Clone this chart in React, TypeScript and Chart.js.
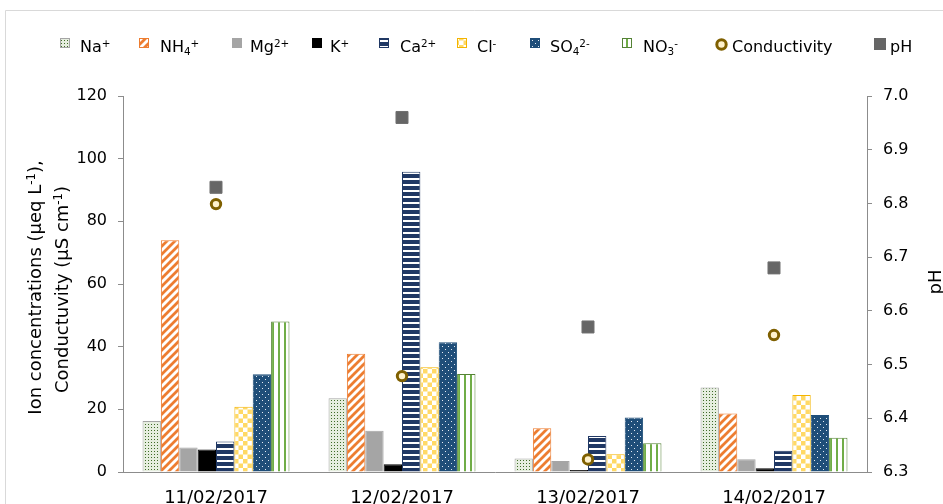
import React, { useEffect, useRef } from 'react';
import { Chart, registerables } from 'chart.js';

Chart.register(...registerables);

const categories = ['11/02/2017', '12/02/2017', '13/02/2017', '14/02/2017'];
const naValues = [16.3, 23.5, 4.3, 27.0];
const nh4Values = [74.0, 37.7, 14.0, 18.7];
const mgValues = [7.8, 13.2, 3.5, 4.1];
const kValues = [7.2, 2.5, 0.6, 1.2];
const caValues = [9.7, 95.8, 11.5, 6.8];
const clValues = [20.8, 33.4, 5.7, 24.6];
const so4Values = [31.2, 41.4, 17.4, 18.2];
const no3Values = [48.0, 31.3, 9.2, 10.9];
const conductivityValues = [85.5, 30.6, 4.0, 43.7];
const phValues = [6.83, 6.96, 6.57, 6.68];

const FONT = "'DejaVu Sans', sans-serif";

type Seg = { t: string; k?: 'sup' | 'sub' };

function makeTile(w: number, h: number, draw: (g: CanvasRenderingContext2D) => void) {
  const c = document.createElement('canvas');
  c.width = w;
  c.height = h;
  const g = c.getContext('2d') as CanvasRenderingContext2D;
  draw(g);
  return c;
}

function buildPatterns(ctx: CanvasRenderingContext2D) {
  const na = makeTile(3, 3, (g) => {
    g.fillStyle = '#E6EEDF';
    g.fillRect(0, 0, 3, 3);
    g.fillStyle = '#3F6B28';
    g.fillRect(1, 1, 1, 1);
  });
  const nh4 = makeTile(8, 8, (g) => {
    g.fillStyle = '#ffffff';
    g.fillRect(0, 0, 8, 8);
    g.strokeStyle = '#ED7D31';
    g.lineWidth = 2.8;
    g.beginPath();
    g.moveTo(-2, 10);
    g.lineTo(10, -2);
    g.moveTo(-2, 2);
    g.lineTo(2, -2);
    g.moveTo(6, 10);
    g.lineTo(10, 6);
    g.stroke();
  });
  const ca = makeTile(6, 6, (g) => {
    g.fillStyle = '#203864';
    g.fillRect(0, 0, 6, 6);
    g.fillStyle = '#ffffff';
    g.fillRect(0, 4, 6, 2);
  });
  const cl = makeTile(9, 9, (g) => {
    g.fillStyle = '#ffffff';
    g.fillRect(0, 0, 9, 9);
    g.fillStyle = '#FFD966';
    g.fillRect(0, 0, 4.5, 4.5);
    g.fillRect(4.5, 4.5, 4.5, 4.5);
  });
  const so4 = makeTile(6, 6, (g) => {
    g.fillStyle = '#1F4E79';
    g.fillRect(0, 0, 6, 6);
    g.fillStyle = '#E6ECF4';
    g.fillRect(1, 1, 1, 1);
    g.fillRect(4, 4, 1, 1);
  });
  const no3 = makeTile(6, 6, (g) => {
    g.fillStyle = '#ffffff';
    g.fillRect(0, 0, 6, 6);
    g.fillStyle = '#70AD47';
    g.fillRect(2, 0, 2, 6);
  });
  const p = (c: HTMLCanvasElement) => ctx.createPattern(c, 'repeat') as CanvasPattern;
  return { na: p(na), nh4: p(nh4), ca: p(ca), cl: p(cl), so4: p(so4), no3: p(no3) };
}

function drawRich(
  ctx: CanvasRenderingContext2D,
  segs: Seg[],
  x: number,
  y: number,
  size: number,
  align: 'left' | 'center'
) {
  const small = size * 0.65;
  let total = 0;
  const widths: number[] = [];
  for (const s of segs) {
    ctx.font = `${s.k ? small : size}px ${FONT}`;
    const w = ctx.measureText(s.t).width;
    widths.push(w);
    total += w;
  }
  let cx = align === 'center' ? x - total / 2 : x;
  ctx.textAlign = 'left';
  ctx.textBaseline = 'alphabetic';
  segs.forEach((s, i) => {
    ctx.font = `${s.k ? small : size}px ${FONT}`;
    const dy = s.k === 'sup' ? -size * 0.33 : s.k === 'sub' ? size * 0.2 : 0;
    ctx.fillText(s.t, cx, y + dy);
    cx += widths[i];
  });
}

export default function App() {
  const ref = useRef<HTMLCanvasElement>(null);

  useEffect(() => {
    const canvas = ref.current;
    if (!canvas) return;
    const ctx0 = canvas.getContext('2d') as CanvasRenderingContext2D;
    const pat = buildPatterns(ctx0);

    const barBase = {
      type: 'bar' as const,
      yAxisID: 'y',
      barPercentage: 1,
      categoryPercentage: 0.79,
      borderWidth: 1,
      order: 1,
    };

    const barStyles = [
      { fill: pat.na, border: '#A5A5A5' },
      { fill: pat.nh4, border: '#ED7D31' },
      { fill: '#A5A5A5', border: '#A5A5A5' },
      { fill: '#000000', border: '#000000' },
      { fill: pat.ca, border: '#203864' },
      { fill: pat.cl, border: '#F4B400' },
      { fill: pat.so4, border: '#1F4E79' },
      { fill: pat.no3, border: '#548235' },
    ];

    const barData = [naValues, nh4Values, mgValues, kValues, caValues, clValues, so4Values, no3Values];
    const barLabels = ['Na+', 'NH4+', 'Mg2+', 'K+', 'Ca2+', 'Cl-', 'SO42-', 'NO3-'];

    const legendItems: { segs: Seg[]; mx: number; tx: number; kind: string; idx: number }[] = [
      { segs: [{ t: 'Na' }, { t: '+', k: 'sup' }], mx: 60, tx: 80, kind: 'bar', idx: 0 },
      { segs: [{ t: 'NH' }, { t: '4', k: 'sub' }, { t: '+', k: 'sup' }], mx: 139, tx: 160, kind: 'bar', idx: 1 },
      { segs: [{ t: 'Mg' }, { t: '2+', k: 'sup' }], mx: 232, tx: 250, kind: 'bar', idx: 2 },
      { segs: [{ t: 'K' }, { t: '+', k: 'sup' }], mx: 312, tx: 330, kind: 'bar', idx: 3 },
      { segs: [{ t: 'Ca' }, { t: '2+', k: 'sup' }], mx: 379, tx: 400, kind: 'bar', idx: 4 },
      { segs: [{ t: 'Cl' }, { t: '-', k: 'sup' }], mx: 457, tx: 477, kind: 'bar', idx: 5 },
      { segs: [{ t: 'SO' }, { t: '4', k: 'sub' }, { t: '2-', k: 'sup' }], mx: 530, tx: 550, kind: 'bar', idx: 6 },
      { segs: [{ t: 'NO' }, { t: '3', k: 'sub' }, { t: '-', k: 'sup' }], mx: 622, tx: 643, kind: 'bar', idx: 7 },
      { segs: [{ t: 'Conductivity' }], mx: 721.5, tx: 732, kind: 'circle', idx: -1 },
      { segs: [{ t: 'pH' }], mx: 874, tx: 890, kind: 'rect', idx: -1 },
    ];

    const decor = {
      id: 'decor',
      beforeDraw(chart: any) {
        const c = chart.ctx as CanvasRenderingContext2D;
        c.save();
        c.fillStyle = '#ffffff';
        c.fillRect(0, 0, chart.width, chart.height);
        c.strokeStyle = '#D9D9D9';
        c.lineWidth = 1;
        c.beginPath();
        c.moveTo(5.5, chart.height);
        c.lineTo(5.5, 10.5);
        c.lineTo(chart.width, 10.5);
        c.stroke();
        c.restore();
      },
      afterDraw(chart: any) {
        const c = chart.ctx as CanvasRenderingContext2D;
        c.save();
        for (const it of legendItems) {
          if (it.kind === 'bar') {
            const st = barStyles[it.idx];
            c.fillStyle = st.fill as any;
            c.fillRect(it.mx, 38, 10, 10);
            c.strokeStyle = st.border;
            c.lineWidth = 1;
            c.strokeRect(it.mx + 0.5, 38.5, 9, 9);
          } else if (it.kind === 'circle') {
            c.beginPath();
            c.arc(it.mx, 44.5, 4.7, 0, Math.PI * 2);
            c.fillStyle = '#FFF2CC';
            c.fill();
            c.lineWidth = 3;
            c.strokeStyle = '#7F6000';
            c.stroke();
          } else {
            c.fillStyle = '#666666';
            c.fillRect(it.mx, 38, 12, 12);
          }
          c.fillStyle = '#000000';
          drawRich(c, it.segs, it.tx, 52, 16, 'left');
        }
        c.fillStyle = '#000000';
        c.save();
        c.translate(41, 287.5);
        c.rotate(-Math.PI / 2);
        drawRich(
          c,
          [{ t: 'Ion concentrations (µeq L' }, { t: '-1', k: 'sup' }, { t: '),' }],
          0,
          0,
          18,
          'center'
        );
        c.restore();
        c.save();
        c.translate(67.5, 289.5);
        c.rotate(-Math.PI / 2);
        drawRich(c, [{ t: 'Conductuvity (µS cm' }, { t: '-1', k: 'sup' }, { t: ')' }], 0, 0, 18, 'center');
        c.restore();
        c.save();
        c.translate(941, 282);
        c.rotate(-Math.PI / 2);
        drawRich(c, [{ t: 'pH' }], 0, 0, 18, 'center');
        c.restore();
        c.restore();
      },
    };

    const datasets: any[] = barData.map((d, i) => ({
      ...barBase,
      label: barLabels[i],
      data: d,
      backgroundColor: barStyles[i].fill,
      borderColor: barStyles[i].border,
    }));
    datasets.push({
      type: 'line',
      label: 'Conductivity',
      data: conductivityValues,
      yAxisID: 'y',
      showLine: false,
      pointStyle: 'circle',
      pointRadius: 4.7,
      pointHoverRadius: 4.7,
      pointBorderWidth: 3,
      pointBorderColor: '#7F6000',
      pointBackgroundColor: '#FFF2CC',
      borderColor: '#7F6000',
      backgroundColor: '#FFF2CC',
      order: 0,
    });
    datasets.push({
      type: 'line',
      label: 'pH',
      data: phValues,
      yAxisID: 'y1',
      showLine: false,
      pointStyle: 'rect',
      pointRadius: 8.5,
      pointHoverRadius: 8.5,
      pointBorderWidth: 1,
      pointBorderColor: '#707070',
      pointBackgroundColor: '#666666',
      borderColor: '#707070',
      backgroundColor: '#666666',
      order: 0,
    });

    const axisColor = '#8C8C8C';

    const chart = new Chart(canvas, {
      data: { labels: categories, datasets },
      options: {
        animation: false,
        responsive: false,
        devicePixelRatio: 1,
        layout: { padding: { top: 96, left: 0, right: 0, bottom: 0 } },
        plugins: { legend: { display: false }, tooltip: { enabled: false } },
        scales: {
          x: {
            type: 'category',
            offset: true,
            grid: { display: false, drawTicks: false },
            border: { display: true, color: axisColor, width: 1 },
            ticks: {
              font: { family: FONT, size: 18 },
              color: '#000000',
              padding: 16,
              maxRotation: 0,
              autoSkip: false,
            },
            afterFit: (s: any) => {
              s.height = 32;
            },
          },
          y: {
            type: 'linear',
            position: 'left',
            min: 0,
            max: 120,
            ticks: {
              stepSize: 20,
              padding: 11,
              font: { family: FONT, size: 16 },
              color: '#000000',
            },
            grid: { drawOnChartArea: false, drawTicks: true, tickLength: 5, color: axisColor },
            border: { display: true, color: axisColor, width: 1 },
            afterFit: (s: any) => {
              s.width = 123;
            },
          },
          y1: {
            type: 'linear',
            position: 'right',
            min: 6.3,
            max: 7.0,
            ticks: {
              stepSize: 0.1,
              padding: 11,
              font: { family: FONT, size: 16 },
              color: '#000000',
              callback: (v: any) => Number(v).toFixed(1),
            },
            grid: { drawOnChartArea: false, drawTicks: true, tickLength: 5, color: axisColor },
            border: { display: true, color: axisColor, width: 1 },
            afterFit: (s: any) => {
              s.width = 76;
            },
          },
        },
      } as any,
      plugins: [decor],
    });

    return () => {
      chart.destroy();
    };
  }, []);

  return (
    <div style={{ position: 'fixed', left: 0, top: 0, width: 943, height: 504, background: '#ffffff' }}>
      <canvas ref={ref} width={943} height={504} style={{ display: 'block', width: 943, height: 504 }} />
    </div>
  );
}
